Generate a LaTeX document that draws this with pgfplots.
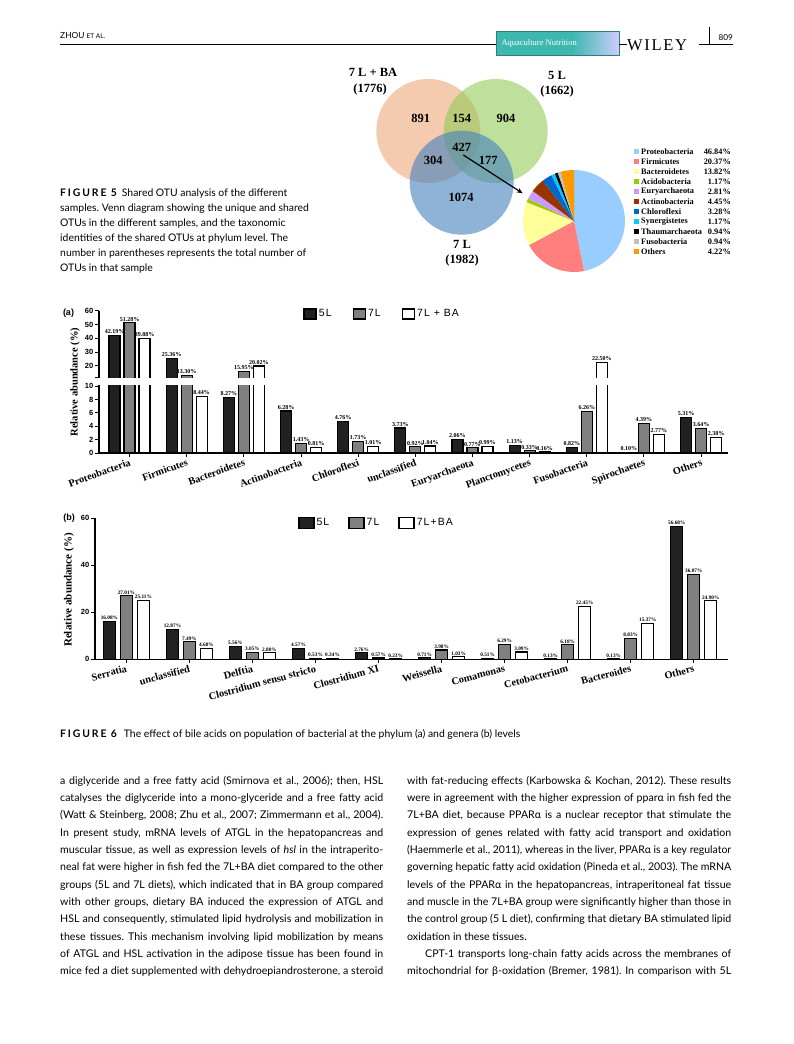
\documentclass[border=0pt]{standalone}
\usepackage{fontspec}
\usepackage{graphicx}
\usepackage{pgfplots}
\usepackage{pgfplotstable}
\pgfplotsset{compat=1.18}
\usetikzlibrary{arrows.meta}
\setmainfont{Lato}
\newfontfamily\tnr{Liberation Serif}
\newfontfamily\ari{Liberation Sans}
\newfontfamily\arisp[LetterSpace=10]{Liberation Sans}
\newfontfamily\latosp[LetterSpace=18]{Lato}
\newfontfamily\wil[LetterSpace=10]{Liberation Serif}
\frenchspacing

\definecolor{peach}{RGB}{238,168,123}
\definecolor{vgreen}{RGB}{147,203,88}
\definecolor{vblue}{RGB}{68,127,188}
\definecolor{pProteo}{HTML}{99CCFF}
\definecolor{pFirm}{HTML}{FF7F7F}
\definecolor{pBact}{HTML}{FFFF99}
\definecolor{pAcido}{HTML}{99CC00}
\definecolor{pEury}{HTML}{CC99FF}
\definecolor{pActino}{HTML}{993300}
\definecolor{pChloro}{HTML}{0066CC}
\definecolor{pSyn}{HTML}{00CCFF}
\definecolor{pThaum}{HTML}{000000}
\definecolor{pFuso}{HTML}{C0C0C0}
\definecolor{pOther}{HTML}{FF9900}
\definecolor{teal}{HTML}{3DB8AE}

% phylum level (a)
\pgfplotstableread{
x A B C
0 42.19 51.28 39.88
1 25.36 13.30 8.44
2 8.27 15.95 20.02
3 6.28 1.43 0.81
4 4.76 1.73 1.01
5 3.73 0.92 1.04
6 2.06 0.77 0.99
7 1.13 0.33 0.16
8 0.82 6.26 22.50
9 0.10 4.39 2.77
10 5.31 3.64 2.38
}\phylum

% genus level (b)
\pgfplotstableread{
x A B C
0 16.08 27.01 25.11
1 12.87 7.49 4.68
2 5.56 3.05 2.80
3 4.57 0.53 0.34
4 2.76 0.57 0.23
5 0.71 3.98 1.03
6 0.51 6.29 3.09
7 0.13 6.18 22.45
8 0.13 8.83 15.37
9 56.68 36.07 24.90
}\genus

\pgfplotsset{
  prism/.style={
    scale only axis, ybar,
    axis line style={line width=1.1pt},
    tick style={line width=1pt, black},
    tick align=outside, major tick length=4pt,
    /pgf/number format/assume math mode=true,
    y tick label style={font=\ari\bfseries\fontsize{7.5}{8}\selectfont, inner sep=1.5pt},
    x tick label style={font=\tnr\bfseries\fontsize{10.3}{11}\selectfont, anchor=north east, inner sep=1pt},
    legend style={draw=none, fill=none, legend columns=3, font=\arisp\fontsize{10.5}{10.5}\selectfont},
  },
  sq/.style 2 args={legend image code/.code={\draw[##1, line width=1.4pt] (0pt,-#2/2) rectangle (#1,#2/2);}},
  bA/.style={fill=black!87, draw=black, line width=1.1pt},
  bB/.style={fill=black!50, draw=black, line width=1.1pt},
  bC/.style={fill=white, draw=black, line width=1.1pt},
  nn/.style={point meta=rawy,
    nodes near coords={\pgfmathprintnumber[fixed,fixed zerofill,precision=2,assume math mode=true]{\pgfplotspointmeta}\%},
    every node near coord/.append style={font=\tnr\bfseries\fontsize{#1}{#1}\selectfont, inner sep=1pt, text=black}},
}

\newsavebox\lb
\newcommand\fit[2]{\sbox\lb{#2}\ifdim\wd\lb>#1\resizebox{#1}{\height}{\usebox\lb}\else\makebox[#1][s]{#2}\fi}
\newcommand\jl[3]{\node[anchor=base west, inner sep=0pt] at (#1,#2) {\fit{323pt}{#3}};}
\newcommand\jr[3]{\node[anchor=base west, inner sep=0pt] at (#1,#2) {\fit{324pt}{#3}};}
\newcommand\tl[3]{\node[anchor=base west, inner sep=0pt] at (#1,#2) {#3};}

\begin{document}
\begin{tikzpicture}[x=1pt,y=-1pt]
\path[use as bounding box] (0,0) rectangle (794,1044);

% ---------- running head
\tl{60}{38.5}{\fontsize{8.4}{9}\selectfont ZHOU {\fontsize{6.5}{7}\selectfont ET AL.}}
\draw[line width=0.6pt] (60,44) -- (496,44);
\fill[teal] (496,31) rectangle (619,55);
\shade[left color=teal, right color=blue!20!white] (572,31) rectangle (619,55);
\draw[teal!70!black, line width=0.5pt] (496,31) rectangle (619,55);
\node[anchor=west, text=white, font=\tnr\fontsize{8.5}{9}\selectfont] at (498,43) {Aquaculture Nutrition};
\draw[line width=0.6pt] (619,44) -- (627,44);
\node[anchor=base west, inner sep=0pt, font=\wil\fontsize{16.5}{17}\selectfont] at (627,50.5) {WILEY};
\draw[line width=0.6pt] (699,44) -- (733,44);
\draw[line width=0.6pt] (709,27) -- (709,44);
\node[anchor=base east, inner sep=0pt, font=\fontsize{8.2}{9}\selectfont] at (733,40) {809};

% ---------- Venn diagram
\fill[peach, opacity=0.6] (428.3,131) circle[radius=52pt];
\fill[vgreen, opacity=0.6] (495.7,131) circle[radius=52pt];
\fill[vblue, opacity=0.6] (461.7,182.7) circle[radius=52pt];
\begin{scope}[font=\tnr\bfseries\fontsize{12.5}{13}\selectfont]
\node at (373,72) {7 L + BA};
\node at (370,89) {(1776)};
\node at (557,75) {5 L};
\node at (557,91) {(1662)};
\node at (462,244) {7 L};
\node at (462,260) {(1982)};
\node at (420.7,118.5) {891};
\node at (461.7,118.5) {154};
\node at (506,118.5) {904};
\node at (461.7,147.5) {427};
\node at (433.3,160.5) {304};
\node at (488.3,160.5) {177};
\node at (461,197) {1074};
\end{scope}
\draw[-{Stealth[length=6pt,width=5pt]}, line width=1.2pt] (463.3,155) -- (522.7,193.3);

% ---------- pie of shared OTUs (clockwise from 12 o'clock)
\gdef\pcum{90}
\foreach \v/\c in {46.84/pProteo,20.37/pFirm,13.82/pBact,1.17/pAcido,2.81/pEury,4.45/pActino,3.28/pChloro,1.17/pSyn,0.94/pThaum,0.94/pFuso,4.22/pOther}{
  \pgfmathsetmacro\pend{\pcum-3.6*\v}
  \fill[\c] (574,221) -- ++(\pcum:51pt) arc[start angle=\pcum, end angle=\pend, radius=51pt] -- cycle;
  \global\let\pcum\pend
}
\begin{scope}[font=\tnr\bfseries\fontsize{8.3}{9}\selectfont]
\foreach \n/\p/\c [count=\i from 0] in {Proteobacteria/46.84/pProteo,Firmicutes/20.37/pFirm,Bacteroidetes/13.82/pBact,Acidobacteria/1.17/pAcido,Euryarchaeota/2.81/pEury,Actinobacteria/4.45/pActino,Chloroflexi/3.28/pChloro,Synergistetes/1.17/pSyn,Thaumarchaeota/0.94/pThaum,Fusobacteria/0.94/pFuso,Others/4.22/pOther}{
  \fill[\c] (634,{149+10.03*\i}) rectangle (638.5,{153.5+10.03*\i});
  \node[anchor=west, inner sep=0pt] at (641,{151.3+10.03*\i}) {\n};
  \node[anchor=east, inner sep=0pt] at (731,{151.3+10.03*\i}) {\p\%};
}
\end{scope}

% ---------- Figure 5 caption
\begin{scope}[font=\fontsize{10.4}{12}\selectfont]
\tl{60}{196}{{\latosp\bfseries FIGURE 5}\hspace{5pt}Shared OTU analysis of the different}
\tl{60}{211}{samples. Venn diagram showing the unique and shared}
\tl{60}{226}{OTUs in the different samples, and the taxonomic}
\tl{60}{241}{identities of the shared OTUs at phylum level. The}
\tl{60}{256}{number in parentheses represents the total number of}
\tl{60}{271}{OTUs in that sample}
\end{scope}

% ---------- Figure 6 (a): phylum, y axis broken between 10 and 12
\node[font=\ari\bfseries\fontsize{9}{9}\selectfont] at (68.5,313.5) {(a)};
\node[rotate=90, font=\tnr\bfseries\fontsize{10.5}{11}\selectfont] at (75,382) {Relative abundance (\%)};

\begin{axis}[prism, sq={12pt}{10pt}, clip=false,
  at={(99pt,-453pt)}, anchor=south west,
  width=629pt, height=142.3pt,
  xmin=-0.534, xmax=10.47, ymin=0, ymax=60,
  y coord trafo/.code={\pgfmathparse{#1<11 ? #1 : 11.343+(#1-12)*0.2064}},
  axis x line*=bottom, axis y line*=left,
  ytick={0,2,4,6,8,10,20,30,40,50,60},
  yticklabels={0,2,4,6,8,10,20,30,40,50,60},
  extra y ticks={12}, extra y tick labels={},
  xtick={0,...,10},
  xticklabels={Proteobacteria,Firmicutes,Bacteroidetes,Actinobacteria,Chloroflexi,unclassified,Euryarchaeota,Planctomycetes,Fusobacteria,Spirochaetes,Others},
  x tick label style={rotate=20},
  bar width=11pt,
  legend style={at={(0.320,0.977)}, anchor=west, /tikz/every even column/.append style={column sep=19pt}},
]
\addplot[bA, bar shift=-15pt, nn=6] table[x=x,y=A]{\phylum};
\addlegendentry{5L}
\addplot[bB, bar shift=0pt, nn=6] table[x=x,y=B]{\phylum};
\addlegendentry{7L}
\addplot[bC, bar shift=15pt, nn=6] table[x=x,y=C]{\phylum};
\addlegendentry{7L + BA}
% the break: a white band across axis line and bars
\fill[white] ([xshift=-2pt]axis cs:-0.534,10.1) rectangle (axis cs:10.47,11.6);
\end{axis}

% ---------- Figure 6 (b): genera
\node[font=\ari\bfseries\fontsize{9}{9}\selectfont] at (69,518.5) {(b)};
\node[rotate=90, font=\tnr\bfseries\fontsize{11}{11}\selectfont] at (69,590) {Relative abundance (\%)};

\begin{axis}[prism, sq={15pt}{11pt}, clip=true,
  at={(95pt,-659.3pt)}, anchor=south west,
  width=632.7pt, height=141pt,
  xmin=-0.498, xmax=9.538, ymin=0, ymax=60,
  axis x line*=bottom, axis y line*=left,
  ytick={0,20,40,60}, xtick={0,...,9},
  xticklabels={Serratia,unclassified,Delftia,Clostridium sensu stricto,Clostridium XI,Weissella,Comamonas,Cetobacterium,Bacteroides,Others},
  x tick label style={rotate=15},
  bar width=12.3pt,
  legend style={at={(0.316,0.967)}, anchor=west, /tikz/every even column/.append style={column sep=17pt}},
]
\addplot[bA, bar shift=-17pt, nn=5.3] table[x=x,y=A]{\genus};
\addlegendentry{5L}
\addplot[bB, bar shift=0pt, nn=5.3] table[x=x,y=B]{\genus};
\addlegendentry{7L}
\addplot[bC, bar shift=17pt, nn=5.3] table[x=x,y=C]{\genus};
\addlegendentry{7L+BA}
\end{axis}

% ---------- Figure 6 caption
\tl{60}{737}{\fontsize{10.4}{12}\selectfont{\latosp\bfseries FIGURE 6}\hspace{7pt}The effect of bile acids on population of bacterial at the phylum (a) and genera (b) levels}

% ---------- body text
\begin{scope}[font=\fontsize{10.6}{12}\selectfont]
\jl{60}{784}{a diglyceride and a free fatty acid (Smirnova et al., 2006); then, HSL}
\jl{60}{801.3}{catalyses the diglyceride into a mono-glyceride and a free fatty acid}
\jl{60}{818.7}{(Watt \& Steinberg, 2008; Zhu et al., 2007; Zimmermann et al., 2004).}
\jl{60}{836}{In present study, mRNA levels of ATGL in the hepatopancreas and}
\jl{60}{853.3}{muscular tissue, as well as expression levels of \emph{hsl} in the intraperito-}
\jl{60}{870.7}{neal fat were higher in fish fed the 7L+BA diet compared to the other}
\jl{60}{888}{groups (5L and 7L diets), which indicated that in BA group compared}
\jl{60}{905.3}{with other groups, dietary BA induced the expression of ATGL and}
\jl{60}{922.7}{HSL and consequently, stimulated lipid hydrolysis and mobilization in}
\jl{60}{940}{these tissues. This mechanism involving lipid mobilization by means}
\jl{60}{957.3}{of ATGL and HSL activation in the adipose tissue has been found in}
\jl{60}{974.7}{mice fed a diet supplemented with dehydroepiandrosterone, a steroid}

\jr{407}{784}{with fat-reducing effects (Karbowska \& Kochan, 2012). These results}
\jr{407}{801.3}{were in agreement with the higher expression of pparα in fish fed the}
\jr{407}{818.7}{7L+BA diet, because PPARα is a nuclear receptor that stimulate the}
\jr{407}{836}{expression of genes related with fatty acid transport and oxidation}
\jr{407}{853.3}{(Haemmerle et al., 2011), whereas in the liver, PPARα is a key regulator}
\jr{407}{870.7}{governing hepatic fatty acid oxidation (Pineda et al., 2003). The mRNA}
\jr{407}{888}{levels of the PPARα in the hepatopancreas, intraperitoneal fat tissue}
\jr{407}{905.3}{and muscle in the 7L+BA group were significantly higher than those in}
\jr{407}{922.7}{the control group (5 L diet), confirming that dietary BA stimulated lipid}
\tl{407}{940}{oxidation in these tissues.}
\node[anchor=base west, inner sep=0pt] at (425,957.3) {\fit{306pt}{CPT-1 transports long-chain fatty acids across the membranes of}};
\jr{407}{974.7}{mitochondrial for β-oxidation (Bremer, 1981). In comparison with 5L}
\end{scope}
\end{tikzpicture}
\end{document}
